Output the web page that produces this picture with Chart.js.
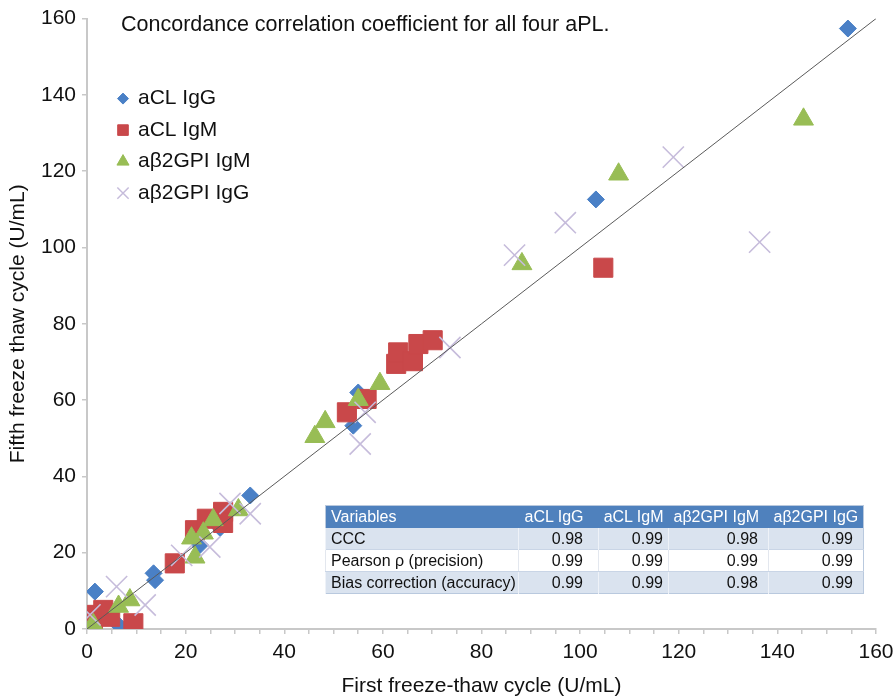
<!DOCTYPE html>
<html>
<head>
<meta charset="utf-8">
<script src="https://cdn.jsdelivr.net/npm/chart.js@4.4.1/dist/chart.umd.min.js"></script>
<style>
  body { margin: 0; background: #fff; }
  #wrap { position: relative; width: 893px; height: 699px; }
  #stats {
    position: absolute; left: 325px; top: 505px; width: 538px;
    border-collapse: collapse; table-layout: fixed;
    font: 16px "Liberation Sans", Arial, sans-serif; color: #111;
    border: 1px solid #b9c9de;
  }
  #stats td, #stats th { padding: 0 0 0 5px; white-space: nowrap; font-weight: normal; line-height: 20px; }
  #stats th { background: #4f81bd; color: #fff; height: 22px; }
  #stats td { height: 21px; }
  #stats tr.shade td { background: #dae3ef; border-left: 1px solid #eef2f8; }
  #stats tr.plain td { background: #fff; border-left: 1px solid #e3e7ee; border-top: 1px solid #c9d5e6; border-bottom: 1px solid #c9d5e6; }
  #stats .num { text-align: right; }
</style>
</head>
<body>
<div id="wrap">
  <canvas id="ccc" width="893" height="699"></canvas>
  <table id="stats"></table>
</div>
<script>
// first vs fifth freeze-thaw cycle (U/mL)
const aclIggX = [0, 1.6, 6.4, 13.5, 13.8, 22.9, 27.0, 33.1, 54.0, 55.0, 103.2, 154.3];
const aclIggY = [1, 9.8, 1.0, 14.6, 12.8, 22.0, 26.5, 35.0, 53.3, 62.0, 112.6, 157.4];

const aclIgmX = [1.2, 2.0, 3.3, 4.7, 9.4, 17.8, 21.9, 24.3, 27.6, 27.6, 52.7, 56.7, 62.7, 63.1, 66.1, 67.2, 70.1, 104.7];
const aclIgmY = [2.5, 3.7, 5.0, 3.2, 1.5, 17.2, 25.9, 28.9, 30.7, 27.8, 56.8, 60.3, 69.5, 72.5, 70.2, 74.7, 75.7, 94.7];

const b2gpIgmX = [0.6, 1.3, 6.4, 8.7, 21.2, 21.9, 23.6, 25.6, 30.7, 46.2, 48.3, 55.0, 59.4, 88.2, 107.8, 145.3];
const b2gpIgmY = [0, 1.1, 5.9, 7.6, 23.8, 18.8, 25.1, 28.6, 31.2, 50.4, 54.3, 60.1, 64.3, 95.7, 119.2, 133.6];

const b2gpIggX = [0.6, 6.0, 11.8, 19.2, 24.9, 29.0, 33.1, 55.4, 56.4, 73.6, 86.7, 97.0, 118.9, 136.4];
const b2gpIggY = [3.7, 11.1, 6.3, 19.3, 21.5, 32.9, 30.2, 48.5, 56.8, 73.8, 98.0, 106.5, 123.7, 101.4];

const identityLine = [0, 160];
const axisTicks = [0, 20, 40, 60, 80, 100, 120, 140, 160];

const seriesNames = ['aCL IgG', 'aCL IgM', 'a\u03b22GPI IgM', 'a\u03b22GPI IgG'];
const chartTitle = 'Concordance correlation coefficient for all four aPL.';

const tableHead = ['Variables', 'aCL IgG', 'aCL IgM', 'a\u03b22GPI IgM', 'a\u03b22GPI IgG'];
const tableRows = ['CCC', 'Pearson \u03c1 (precision)', 'Bias correction (accuracy)'];
const cccVals = ['0.98', '0.99', '0.98', '0.99'];
const pearsonVals = ['0.99', '0.99', '0.99', '0.99'];
const biasVals = ['0.99', '0.99', '0.98', '0.99'];

const FONT = '"Liberation Sans", Arial, sans-serif';

function pts(xs, ys) {
    return xs.map((x, i) => ({x: x, y: ys[i]}));
}

// stats table
const colW = [193, 80, 70, 100, 95];
const padR = [0, 15, 5, 10, 10];
let html = '<colgroup>' + colW.map(w => '<col style="width:' + w + 'px">').join('') + '</colgroup>';
html += '<tr>' + tableHead.map((h, i) => '<th style="text-align:' + (i ? 'right' : 'left') + ';padding-right:' + padR[i] + 'px">' + h + '</th>').join('') + '</tr>';
[cccVals, pearsonVals, biasVals].forEach((vals, r) => {
    html += '<tr class="' + (r === 1 ? 'plain' : 'shade') + '"><td>' + tableRows[r] + '</td>' +
        vals.map((v, i) => '<td class="num" style="padding-right:' + padR[i + 1] + 'px">' + v + '</td>').join('') + '</tr>';
});
document.getElementById('stats').innerHTML = html;

const styles = [
    {pointStyle: 'rectRot', color: '#4a80c6', radius: 8.5, legendR: 5.5},
    {pointStyle: 'rect', color: '#c9484a', radius: 13.5, legendR: 7.5},
    {pointStyle: 'triangle', color: '#98bd55', radius: 11.5, legendR: 7},
    {pointStyle: 'crossRot', color: '#c6bcdb', radius: 15, legendR: 8}
];

const legendAndTitle = {
    id: 'legendAndTitle',
    afterDraw(chart) {
        const ctx = chart.ctx;
        const a = chart.chartArea;
        ctx.save();
        ctx.fillStyle = '#111';
        ctx.textBaseline = 'middle';
        ctx.font = '21.5px ' + FONT;
        ctx.fillText(chartTitle, a.left + 34, a.top + 6);
        ctx.font = '21px ' + FONT;
        seriesNames.forEach((name, i) => {
            const st = styles[i];
            const y = a.top + 80 + i * 31.5;
            ctx.fillStyle = st.color;
            ctx.strokeStyle = st.color;
            ctx.lineWidth = st.pointStyle === 'crossRot' ? 1.5 : 1;
            Chart.helpers.drawPoint(ctx, {pointStyle: st.pointStyle, radius: st.legendR, rotation: 0, borderWidth: 1}, a.left + 36, y);
            ctx.fillStyle = '#111';
            ctx.fillText(name, a.left + 51, y);
        });
        ctx.restore();
    }
};

const xsets = [[aclIggX, aclIggY], [aclIgmX, aclIgmY], [b2gpIgmX, b2gpIgmY], [b2gpIggX, b2gpIggY]];
const datasets = xsets.map((s, i) => ({
    label: seriesNames[i],
    data: pts(s[0], s[1]),
    pointStyle: styles[i].pointStyle,
    pointRadius: styles[i].radius,
    backgroundColor: styles[i].color,
    borderColor: styles[i].color,
    borderWidth: i === 3 ? 1.6 : 1,
    order: 4 - i
}));
datasets.push({
    type: 'line',
    label: 'identity',
    data: pts(identityLine, identityLine),
    borderColor: '#5a5a5a',
    borderWidth: 1,
    pointRadius: 0,
    order: 0
});

new Chart(document.getElementById('ccc').getContext('2d'), {
    type: 'scatter',
    data: {datasets: datasets},
    plugins: [legendAndTitle],
    options: {
        responsive: false,
        animation: false,
        events: [],
        layout: {padding: {top: 17, right: 17, left: 0, bottom: 0}},
        plugins: {legend: {display: false}, tooltip: {enabled: false}},
        scales: {
            x: {
                type: 'linear', min: axisTicks[0], max: axisTicks[axisTicks.length - 1],
                afterFit(s) { s.height = 70; s.paddingRight = 0; s.paddingLeft = 0; },
                border: {color: '#c8c8c8', width: 2},
                grid: {drawOnChartArea: false, tickLength: 5, color: '#c8c8c8', lineWidth: 1.5},
                ticks: {stepSize: 5, autoSkip: false, maxRotation: 0, padding: 6, color: '#111',
                        font: {family: FONT, size: 21},
                        callback: v => axisTicks.includes(v) ? v : ''},
                title: {display: true, text: 'First freeze-thaw cycle (U/mL)', color: '#111',
                        font: {family: FONT, size: 21}, padding: {top: 0, bottom: 0}}
            },
            y: {
                type: 'linear', min: axisTicks[0], max: axisTicks[axisTicks.length - 1],
                afterFit(s) { s.width = 87; },
                border: {color: '#c8c8c8', width: 2},
                grid: {drawOnChartArea: false, tickLength: 5, color: '#c8c8c8', lineWidth: 1.5},
                ticks: {stepSize: 20, padding: 6, color: '#111', font: {family: FONT, size: 21}},
                title: {display: true, text: 'Fifth freeze thaw cycle (U/mL)', color: '#111',
                        font: {family: FONT, size: 21}, padding: {top: 6, bottom: 0}}
            }
        }
    }
});
</script>
</body>
</html>
